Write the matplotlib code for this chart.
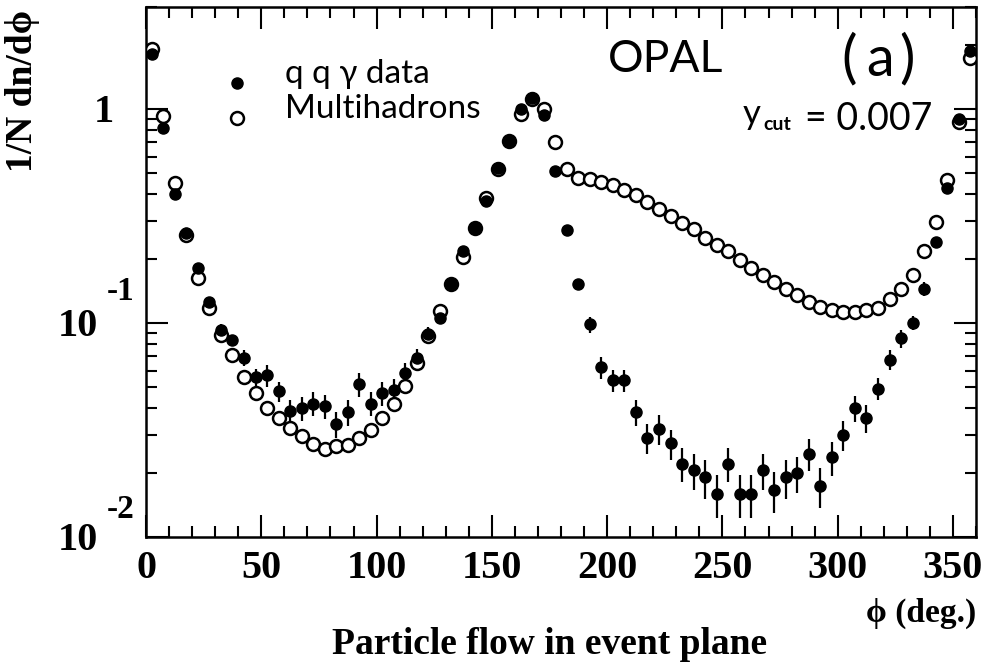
import numpy as np
import matplotlib
matplotlib.use("Agg")
import matplotlib.pyplot as plt
from matplotlib.lines import Line2D

# bin centres (5 degree bins)
phi = np.arange(2.5, 360.0, 5.0)

# q q gamma data (filled)
qqg = [1.80, 0.82, 0.40, 0.263, 0.181, 0.126, 0.093, 0.083, 0.069, 0.0557,
       0.057, 0.048, 0.0387, 0.040, 0.042, 0.041, 0.0338, 0.0384, 0.0519, 0.042,
       0.047, 0.0488, 0.0587, 0.069, 0.089, 0.106, 0.153, 0.216, 0.279, 0.373,
       0.533, 0.71, 1.00, 1.13, 0.94, 0.515, 0.273, 0.153, 0.0986, 0.0622,
       0.054, 0.054, 0.0383, 0.0291, 0.0321, 0.0274, 0.022, 0.0205, 0.019, 0.0159,
       0.022, 0.0159, 0.0159, 0.0205, 0.0166, 0.019, 0.0199, 0.0245, 0.0173, 0.0236,
       0.0299, 0.040, 0.036, 0.0493, 0.0673, 0.085, 0.100, 0.145, 0.240, 0.426,
       0.90, 1.86]

qqg_err = [0.02, 0.018, 0.009, 0.0085, 0.0058, 0.0054, 0.006, 0.0053, 0.0059, 0.0054,
           0.0067, 0.0051, 0.0050, 0.0051, 0.0054, 0.0053, 0.0047, 0.0053, 0.0067, 0.0054,
           0.0060, 0.0057, 0.0063, 0.0067, 0.0067, 0.0068, 0.0066, 0.0093, 0.009, 0.012,
           0.011, 0.015, 0.02, 0.024, 0.02, 0.011, 0.0088, 0.0066, 0.0084, 0.0073,
           0.0064, 0.0064, 0.0053, 0.0047, 0.0052, 0.0044, 0.0040, 0.0040, 0.0039, 0.0036,
           0.0040, 0.0036, 0.0036, 0.0040, 0.0036, 0.0039, 0.0038, 0.0042, 0.0037, 0.0043,
           0.0048, 0.0054, 0.0054, 0.0058, 0.0072, 0.0082, 0.0075, 0.011, 0.010, 0.014,
           0.029, 0.04]

# multihadrons (open)
multi = [1.90, 0.93, 0.45, 0.257, 0.163, 0.117, 0.088, 0.071, 0.056, 0.047,
         0.040, 0.036, 0.0324, 0.0298, 0.0271, 0.0259, 0.0266, 0.0269, 0.0291, 0.0316,
         0.036, 0.0418, 0.051, 0.065, 0.087, 0.114, 0.153, 0.203, 0.279, 0.383,
         0.524, 0.71, 0.95, 1.11, 1.00, 0.70, 0.524, 0.476, 0.471, 0.457,
         0.441, 0.418, 0.397, 0.367, 0.341, 0.318, 0.292, 0.274, 0.250, 0.231,
         0.216, 0.198, 0.181, 0.167, 0.156, 0.145, 0.135, 0.126, 0.119, 0.115,
         0.113, 0.113, 0.115, 0.118, 0.129, 0.145, 0.168, 0.216, 0.296, 0.466,
         0.87, 1.74]

serif = ['Liberation Serif', 'DejaVu Serif']
sans = ['Lato', 'DejaVu Sans']

W, H = 986, 664
fig = plt.figure(figsize=(W / 100, H / 100), dpi=100)
ax = fig.add_axes([146 / W, 1 - 537 / H, 830 / W, 530 / H])

ax.errorbar(phi, qqg, yerr=qqg_err, fmt='none', ecolor='black', elinewidth=1.6, zorder=2)
ax.plot(phi, multi, 'o', ms=9.3, mfc='white', mec='black', mew=1.8, zorder=3)
ax.plot(phi, qqg, 'o', ms=8, mfc='black', mec='black', zorder=4)

ax.set_yscale('log')
ax.set_xlim(0, 360)
ax.set_ylim(0.01, 3.0)

ax.set_xticks(np.arange(0, 351, 50))
ax.set_xticks(np.arange(0, 361, 10), minor=True)
ax.tick_params(which='both', direction='in', top=True, right=True, width=1.5)
ax.tick_params(which='major', length=16)
ax.tick_params(which='minor', length=8)
ax.tick_params(axis='x', which='major', pad=9, labelsize=29)
for lab in ax.get_xticklabels():
    lab.set_family(serif)
    lab.set_weight('bold')
ax.set_yticks([0.01, 0.1, 1.0])
ax.yaxis.set_ticklabels([])
ax.yaxis.set_minor_formatter(matplotlib.ticker.NullFormatter())
for s in ax.spines.values():
    s.set_linewidth(1.8)


def px(x, y):
    return x / W, 1 - y / H


# y tick labels drawn by hand (big raised exponents)
fig.text(*px(104, 112), '1', family=serif, weight='bold', fontsize=29, ha='center', va='center')
fig.text(*px(78, 327), '10', family=serif, weight='bold', fontsize=29, ha='center', va='center')
fig.text(*px(121, 292), '-1', family=serif, weight='bold', fontsize=24, ha='center', va='center')
fig.text(*px(78, 541), '10', family=serif, weight='bold', fontsize=29, ha='center', va='center')
fig.text(*px(121, 510), '-2', family=serif, weight='bold', fontsize=24, ha='center', va='center')

# axis titles
fig.text(*px(22, 91), '1/N dn/d\u03d5', family=serif, weight='bold', fontsize=27,
         rotation=90, ha='center', va='center')
fig.text(*px(976, 613), '\u03d5 (deg.)', family=serif, weight='bold', fontsize=24,
         ha='right', va='center')
fig.text(*px(550, 644), 'Particle flow in event plane', family=serif, weight='bold',
         fontsize=27, ha='center', va='center')

# legend
fig.add_artist(Line2D([237 / W], [1 - 83 / H], marker='o', ms=8, mfc='black', mec='black',
                      ls='none', transform=fig.transFigure))
fig.add_artist(Line2D([237 / W], [1 - 118 / H], marker='o', ms=9.3, mfc='white', mec='black',
                      mew=1.8, ls='none', transform=fig.transFigure))
fig.text(*px(285, 83), 'q q \u03b3 data', family=sans, fontsize=24, va='baseline')
fig.text(*px(285, 118), 'Multihadrons', family=sans, fontsize=24, va='baseline')

# labels
fig.text(*px(608, 72), 'OPAL', family=sans, fontsize=32, va='baseline')
fig.text(*px(841, 76), '(', family=sans, fontsize=42, va='baseline')
fig.text(*px(866, 76), 'a', family=sans, fontsize=40, va='baseline')
fig.text(*px(899, 76), ')', family=sans, fontsize=42, va='baseline')
fig.text(*px(743, 124), 'y', family=sans, fontsize=25, va='baseline')
fig.text(*px(763, 130), 'cut', family=sans, weight='bold', fontsize=14, va='baseline')
fig.text(*px(805, 130), '= 0.007', family=sans, fontsize=27, va='baseline')

fig.savefig('out.png', dpi=100)
